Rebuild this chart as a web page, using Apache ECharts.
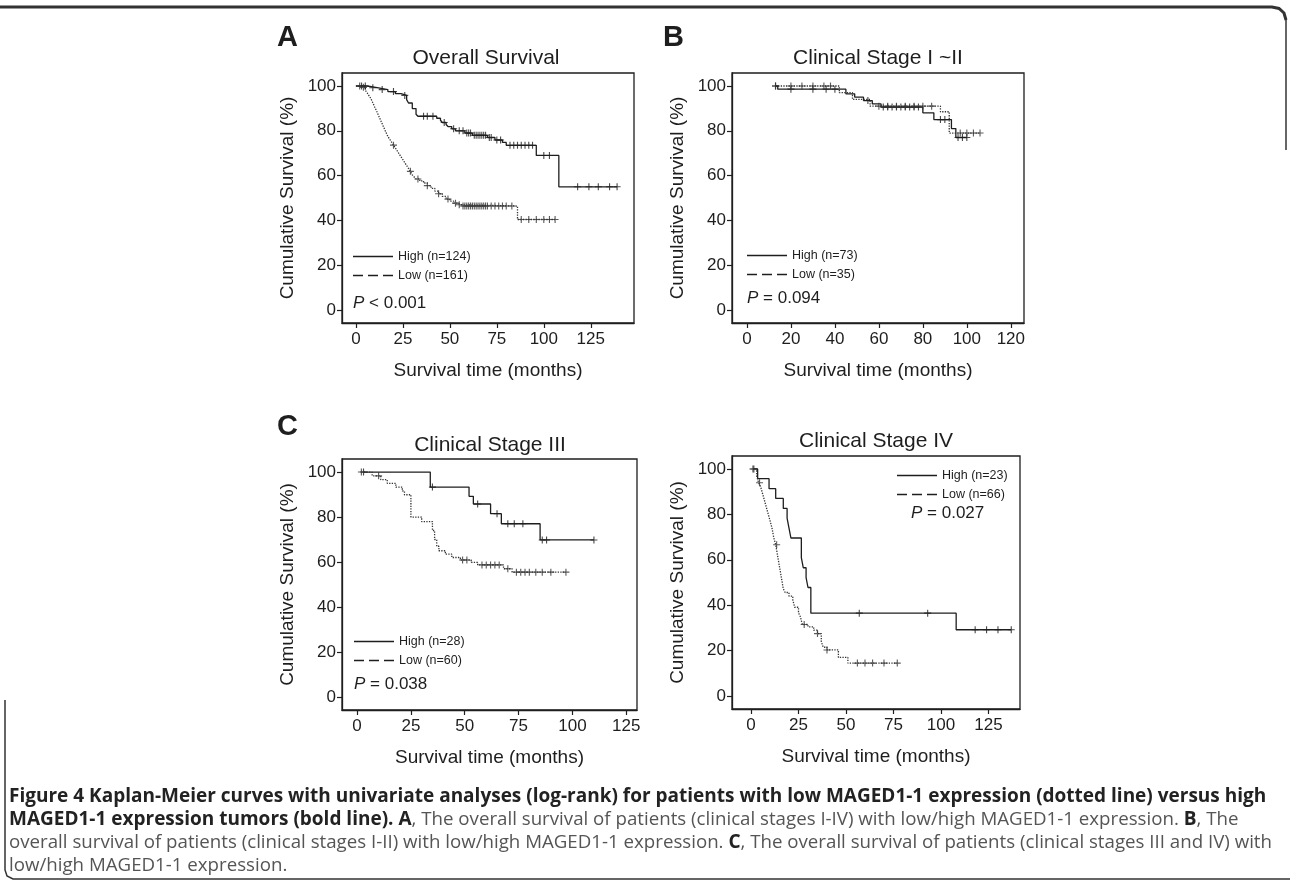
<!DOCTYPE html>
<html><head><meta charset="utf-8">
<script src="https://cdn.jsdelivr.net/npm/echarts@6/dist/echarts.min.js"></script>
<style>html,body{margin:0;padding:0;background:#fff}#c{width:1290px;height:883px}</style>
</head><body><div id="c"></div>
<script>
// ---------- Panel A: Overall Survival ----------
const A_high_t = [0, 6, 12, 17, 21, 24, 27, 28, 30, 32, 33, 43, 45, 46, 48, 49, 51, 53, 58, 62, 70, 74, 78, 80, 96, 108];
const A_high_s = [100, 99.2, 98.4, 97.5, 96.6, 95.8, 93.9, 92.4, 89.9, 87.4, 86.5, 85.6, 84.7, 83.7, 82.8, 81.9, 80.9, 80.0, 79.0, 78.0, 77.0, 75.9, 74.8, 73.5, 69.0, 55.0];
const A_high_end = 139;
const A_high_cens = [3, 5, 9, 14, 20, 26, 36, 38, 41, 47, 52, 55, 57, 59, 60, 61, 63, 64, 65, 66, 67, 68, 69, 71, 72, 75, 77, 82, 84, 86, 88, 90, 92, 94, 100, 103, 118, 124, 129, 135, 139];
const A_low_t = [0, 3, 5, 6, 7, 8, 9, 10, 11, 12, 13, 14, 15, 16, 17, 18, 19, 20, 21, 22, 23, 24, 25, 26, 27, 28, 29, 30, 31, 32, 34, 36, 38, 40, 42, 44, 46, 48, 50, 52, 54, 56, 86];
const A_low_s = [100, 99.4, 98.1, 96.9, 95.6, 94.3, 92.5, 90.6, 88.8, 86.9, 85, 83.1, 81.2, 79.3, 77.5, 76.2, 74.9, 73.6, 72.3, 71, 69.7, 68.4, 67.1, 65.8, 64.5, 63.2, 61.9, 60.3, 59.4, 58.5, 57.6, 56.7, 55.5, 54.3, 53.1, 51.9, 50.7, 49.5, 48.6, 47.7, 47, 46.4, 40.4];
const A_low_end = 106;
const A_low_cens = [2, 4, 20, 29, 33, 38, 44, 49, 53, 55, 57, 58, 59, 60, 61, 62, 63, 64, 65, 66, 67, 68, 69, 70, 72, 74, 76, 78, 80, 83, 88, 92, 96, 100, 103, 106];

// ---------- Panel B: Clinical Stage I ~II ----------
const B_high_t = [13, 14, 45, 49, 53, 57, 61, 80, 85, 93, 95];
const B_high_s = [100, 98.6, 96.5, 95, 93.5, 92, 90.6, 88, 85, 81, 77];
const B_high_end = 100;
const B_high_cens = [13, 20, 30, 36, 40, 55, 62, 64, 66, 68, 70, 72, 74, 76, 78, 88, 90, 96, 98, 100];
const B_low_t = [13, 42, 48, 56, 88, 92];
const B_low_s = [100, 97, 94, 91, 88.5, 79];
const B_low_end = 106;
const B_low_cens = [13, 20, 25, 30, 35, 38, 60, 64, 68, 72, 76, 80, 84, 97, 100, 103, 106];

// ---------- Panel C: Clinical Stage III ----------
const C_high_t = [3, 34, 52, 54, 62, 67, 85];
const C_high_s = [100, 93.3, 89.2, 85.8, 81.5, 77.0, 69.8];
const C_high_end = 110;
const C_high_cens = [3, 35, 56, 65, 70, 73, 77, 86, 88, 110];
const C_low_t = [2, 7, 11, 14, 18, 21, 22, 25, 30, 35, 36, 37, 38, 41, 44, 48, 53, 56, 68, 72];
const C_low_s = [100, 98.3, 96.6, 95, 93.3, 91.6, 89.9, 80, 78, 74, 70, 67, 65, 63.5, 62, 60.9, 59.8, 58.7, 57, 55.5];
const C_low_end = 97;
const C_low_cens = [2, 10, 49, 51, 58, 60, 62, 64, 66, 70, 74, 76, 78, 80, 83, 86, 90, 97];

// ---------- Panel D: Clinical Stage IV ----------
const D_high_t = [1.5, 3.5, 9.5, 13, 17, 19, 20, 21, 26.5, 27.5, 29, 30, 31.5, 108];
const D_high_s = [100, 95.7, 91.3, 87.0, 82.6, 78.3, 73.9, 69.6, 60.9, 56.5, 52.2, 47.8, 36.5, 29.2];
const D_high_end = 137;
const D_high_cens = [1.5, 57, 93, 118, 124, 130, 137];
const D_low_t = [1, 3, 4, 5, 6, 7, 8, 9, 10, 11, 12, 13, 14, 15, 16, 17, 18, 20, 22, 23, 25, 26, 27, 30, 33, 35, 37, 38, 40, 46, 51];
const D_low_s = [100, 96.9, 93.9, 92.4, 89.4, 86.4, 83.3, 80.3, 77.3, 74.2, 69.7, 66.6, 61.8, 56.9, 52.1, 47.2, 45.6, 44, 42.3, 39.1, 36.6, 34.9, 31.5, 30.5, 29, 27.5, 24, 21.5, 20.3, 17, 14.5];
const D_low_end = 77;
const D_low_cens = [1, 4.5, 13.5, 28, 35, 40, 56, 60, 64, 70, 77];

// ---------- Labels ----------
const panelLetters = ['A', 'B', 'C'];
const panelTitles = ['Overall Survival', 'Clinical Stage I ~II', 'Clinical Stage III', 'Clinical Stage IV'];
const highNames = ['High (n=124)', 'High (n=73)', 'High (n=28)', 'High (n=23)'];
const lowNames = ['Low (n=161)', 'Low (n=35)', 'Low (n=60)', 'Low (n=66)'];
const pTexts = ['< 0.001', '= 0.094', '= 0.038', '= 0.027'];
const xTicksA = [0, 25, 50, 75, 100, 125];
const xTicksB = [0, 20, 40, 60, 80, 100, 120];
const yTicks = [0, 20, 40, 60, 80, 100];
const yName = 'Cumulative Survival (%)';
const xName = 'Survival time (months)';

const FONT = '"Liberation Sans", Arial, sans-serif';
const INK = '#1e1e1e';

function steps(t, s, end) {
  const d = t.map((x, i) => [x, s[i]]);
  d.push([end, s[s.length - 1]]);
  return d;
}
function cens(t, s, c) {
  return c.map(x => {
    let v = s[0];
    for (let i = 0; i < t.length; i++) if (t[i] <= x) v = s[i];
    return [x, v];
  });
}

const panels = [
  {ht: A_high_t, hs: A_high_s, he: A_high_end, hc: A_high_cens, lt: A_low_t, ls: A_low_s, le: A_low_end, lc: A_low_cens,
   grid: {left: 342, top: 73, width: 292, height: 250}, xmin: -7.4, xmax: 148, ymin: -5.8, ymax: 105.8, xt: xTicksA},
  {ht: B_high_t, hs: B_high_s, he: B_high_end, hc: B_high_cens, lt: B_low_t, ls: B_low_s, le: B_low_end, lc: B_low_cens,
   grid: {left: 732, top: 73, width: 292, height: 250}, xmin: -6.8, xmax: 126, ymin: -5.8, ymax: 105.8, xt: xTicksB},
  {ht: C_high_t, hs: C_high_s, he: C_high_end, hc: C_high_cens, lt: C_low_t, ls: C_low_s, le: C_low_end, lc: C_low_cens,
   grid: {left: 342, top: 459, width: 295, height: 251}, xmin: -7, xmax: 130, ymin: -5.8, ymax: 105.8, xt: xTicksA},
  {ht: D_high_t, hs: D_high_s, he: D_high_end, hc: D_high_cens, lt: D_low_t, ls: D_low_s, le: D_low_end, lc: D_low_cens,
   grid: {left: 732, top: 456, width: 288, height: 253}, xmin: -10, xmax: 141.6, ymin: -5.7, ymax: 105.7, xt: xTicksA}
];

const PLUS = 'path://M4.2,0h1.6v4.2h4.2v1.6h-4.2v4.2h-1.6v-4.2h-4.2v-1.6h4.2z';
const ICON_SOLID = 'path://M0,0H40V1.3H0Z';
const ICON_DASH = 'path://M0,0H10V1.3H0Z M15,0H25V1.3H15Z M30,0H40V1.3H30Z';

const grid = [], xAxis = [], yAxis = [], series = [], legend = [], title = [];
panels.forEach((p, i) => {
  grid.push(Object.assign({show: true, borderColor: INK, borderWidth: 1.3, backgroundColor: '#fff'}, p.grid));
  xAxis.push({
    type: 'value', gridIndex: i, min: p.xmin, max: p.xmax,
    name: xName, nameLocation: 'middle', nameGap: 38,
    nameTextStyle: {fontFamily: FONT, fontSize: 19, color: INK},
    axisLine: {show: true, onZero: false, lineStyle: {color: INK, width: 1.3}},
    axisTick: {show: true, customValues: p.xt, length: 5, lineStyle: {color: INK, width: 1.2}},
    axisLabel: {customValues: p.xt, fontFamily: FONT, fontSize: 17, color: INK, margin: 8},
    splitLine: {show: false}
  });
  yAxis.push({
    type: 'value', gridIndex: i, min: p.ymin, max: p.ymax,
    name: yName, nameLocation: 'middle', nameGap: 45, nameRotate: 90,
    nameTextStyle: {fontFamily: FONT, fontSize: 19, color: INK},
    axisLine: {show: true, onZero: false, lineStyle: {color: INK, width: 1.3}},
    axisTick: {show: true, customValues: yTicks, length: 5, lineStyle: {color: INK, width: 1.2}},
    axisLabel: {customValues: yTicks, fontFamily: FONT, fontSize: 17, color: INK, margin: 6},
    splitLine: {show: false}
  });
  series.push({
    name: highNames[i], type: 'line', step: 'end', xAxisIndex: i, yAxisIndex: i,
    symbol: 'none', data: steps(p.ht, p.hs, p.he),
    lineStyle: {color: INK, width: 1.3, type: 'solid'}, itemStyle: {color: INK}, z: 3
  });
  series.push({
    name: lowNames[i], type: 'line', step: 'end', xAxisIndex: i, yAxisIndex: i,
    symbol: 'none', data: steps(p.lt, p.ls, p.le),
    lineStyle: {color: '#333', width: 1.3, type: [1.3, 1.3]}, itemStyle: {color: '#222'}, z: 3
  });
  series.push({
    name: 'cens_h_' + i, type: 'scatter', xAxisIndex: i, yAxisIndex: i,
    symbol: PLUS, symbolSize: 7, data: cens(p.ht, p.hs, p.hc),
    itemStyle: {color: INK}, z: 4, silent: true
  });
  series.push({
    name: 'cens_l_' + i, type: 'scatter', xAxisIndex: i, yAxisIndex: i,
    symbol: PLUS, symbolSize: 7, data: cens(p.lt, p.ls, p.lc),
    itemStyle: {color: '#333'}, z: 4, silent: true
  });
});

const legendPos = [
  {left: 353, top: 250}, {left: 747, top: 249}, {left: 354, top: 635}, {left: 897, top: 469}
];
const pPos = [
  {left: 353, top: 303}, {left: 747, top: 298}, {left: 354, top: 684}, {left: 911, top: 513}
];
const titlePos = [
  {left: 486, top: 58}, {left: 878, top: 58}, {left: 490, top: 445}, {left: 876, top: 441}
];
const letterPos = [{left: 277, top: 38}, {left: 663, top: 38}, {left: 277, top: 427}];

panels.forEach((p, i) => {
  legend.push(Object.assign({
    orient: 'vertical', itemWidth: 40, itemHeight: 1.3, itemGap: 6, padding: 0,
    data: [
      {name: highNames[i], icon: ICON_SOLID, itemStyle: {color: INK}},
      {name: lowNames[i], icon: ICON_DASH, itemStyle: {color: INK}}
    ],
    textStyle: {fontFamily: FONT, fontSize: 12.5, color: INK, padding: [0, 0, 0, 0]},
    selectedMode: false
  }, legendPos[i]));
  title.push(Object.assign({
    text: '{i|P} ' + pTexts[i], textVerticalAlign: 'middle', padding: 0,
    textStyle: {fontFamily: FONT, fontSize: 17, fontWeight: 'normal', color: INK,
      rich: {i: {fontStyle: 'italic', fontFamily: FONT, fontSize: 17, color: INK}}}
  }, pPos[i]));
  title.push(Object.assign({
    text: panelTitles[i], textAlign: 'center', textVerticalAlign: 'middle', padding: 0,
    textStyle: {fontFamily: FONT, fontSize: 21, fontWeight: 'normal', color: INK}
  }, titlePos[i]));
});
panelLetters.forEach((L, i) => {
  title.push(Object.assign({
    text: L, textVerticalAlign: 'middle', padding: 0,
    textStyle: {fontFamily: FONT, fontSize: 29, fontWeight: 'bold', color: INK}
  }, letterPos[i]));
});

// caption
const captionLines = [
  '{b|Figure 4 Kaplan-Meier curves with univariate analyses (log-rank) for patients with low MAGED1-1 expression (dotted line) versus high}',
  '{b|MAGED1-1 expression tumors (bold line). A}{r|, The overall survival of patients (clinical stages I-IV) with low/high MAGED1-1 expression. }{b|B}{r|, The}',
  '{r|overall survival of patients (clinical stages I-II) with low/high MAGED1-1 expression. }{b|C}{r|, The overall survival of patients (clinical stages III and IV) with}',
  '{r|low/high MAGED1-1 expression.}'
];
const captionTops = [797, 820, 843, 866];
const CAPF = '"Open Sans", "Noto Sans", sans-serif';
captionLines.forEach((t, i) => {
  title.push({
    text: t, left: 9, top: captionTops[i], textVerticalAlign: 'middle', padding: 0,
    textStyle: {fontSize: 19, rich: {
      b: {fontFamily: CAPF, fontSize: 19, fontWeight: 'bold', color: '#222'},
      r: {fontFamily: CAPF, fontSize: 18.7, fontWeight: 'normal', color: '#555'}
    }}
  });
});

const option = {
  backgroundColor: '#fff',
  animation: false,
  grid, xAxis, yAxis, series, legend, title,
  graphic: [
    {type: 'polyline', shape: {points: [[0, 7], [1272, 7], [1279, 8.5], [1284, 13], [1286, 20]]}, style: {stroke: '#333', lineWidth: 3, fill: null}, silent: true},
    {type: 'line', shape: {x1: 1286, y1: 18, x2: 1286, y2: 150}, style: {stroke: '#333', lineWidth: 1.5}, silent: true},
    {type: 'polyline', shape: {points: [[5, 700], [5, 870], [7, 876], [13, 879], [1290, 879]]}, style: {stroke: '#333', lineWidth: 1.5, fill: null}, silent: true}
  ]
};
const chart = echarts.init(document.getElementById('c'), null, {renderer: 'canvas'});
chart.setOption(option);
</script></body></html>
